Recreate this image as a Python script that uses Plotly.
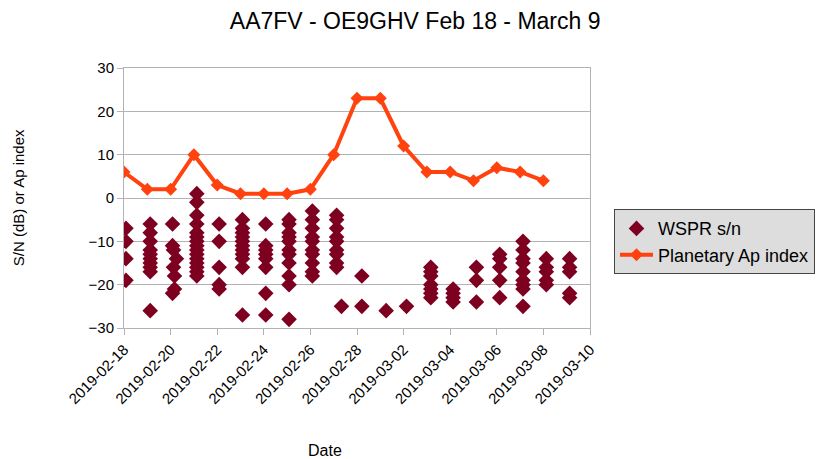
import plotly.graph_objects as go

# Planetary Ap index (daily)
ap_dates = ["2019-02-18", "2019-02-19", "2019-02-20", "2019-02-21", "2019-02-22",
            "2019-02-23", "2019-02-24", "2019-02-25", "2019-02-26", "2019-02-27",
            "2019-02-28", "2019-03-01", "2019-03-02", "2019-03-03", "2019-03-04",
            "2019-03-05", "2019-03-06", "2019-03-07", "2019-03-08"]
ap_values = [6, 2, 2, 10, 3, 1, 1, 1, 2, 10, 23, 23, 12, 6, 6, 4, 7, 6, 4]

# WSPR spots: time and s/n (dB)
wspr_time = (
    ["2019-02-18 02:00"] * 4 +
    ["2019-02-19 03:00"] * 10 +
    ["2019-02-20 02:00", "2019-02-20 02:00", "2019-02-20 03:00", "2019-02-20 06:00",
     "2019-02-20 03:00", "2019-02-20 04:00", "2019-02-20 04:00", "2019-02-20 02:00"] +
    ["2019-02-21 03:00"] * 15 +
    ["2019-02-22 02:00"] * 5 +
    ["2019-02-23 02:00"] * 11 +
    ["2019-02-24 02:00"] * 8 +
    ["2019-02-25 02:00"] * 11 +
    ["2019-02-26 02:00"] * 10 +
    ["2019-02-27 03:00"] * 9 + ["2019-02-27 08:00"] +
    ["2019-02-28 05:00"] * 2 +
    ["2019-03-01 06:00"] +
    ["2019-03-02 03:00"] +
    ["2019-03-03 04:00"] * 7 +
    ["2019-03-04 03:00"] * 4 +
    ["2019-03-05 03:00"] * 3 +
    ["2019-03-06 03:00"] * 5 +
    ["2019-03-07 03:00"] * 9 +
    ["2019-03-08 03:00"] * 5 +
    ["2019-03-09 03:00"] * 5
)
wspr_sn = (
    [-7, -10, -14, -19] +
    [-6, -8, -10, -12, -13, -14, -15, -16, -17, -26] +
    [-6, -11, -12, -14, -16, -18, -21, -22] +
    [1, -1, -4, -6, -8, -9, -10, -11, -12, -13, -14, -15, -16, -17, -18] +
    [-6, -10, -16, -20, -21] +
    [-5, -7, -8, -9, -10, -11, -12, -13, -14, -16, -27] +
    [-6, -11, -12, -13, -14, -16, -22, -27] +
    [-5, -6, -8, -9, -10, -12, -13, -15, -18, -20, -28] +
    [-3, -5, -7, -9, -10, -12, -13, -15, -17, -18] +
    [-4, -5, -7, -9, -10, -12, -13, -15, -16, -25] +
    [-18, -25] +
    [-26] +
    [-25] +
    [-16, -17, -18, -20, -21, -22, -23] +
    [-21, -22, -23, -24] +
    [-16, -19, -24] +
    [-13, -14, -16, -19, -23] +
    [-10, -12, -14, -15, -17, -19, -20, -21, -25] +
    [-14, -16, -17, -19, -20] +
    [-14, -16, -17, -22, -23]
)

x_range = ["2019-02-18", "2019-03-10"]
y_range = [-30, 30]

FONT = "Liberation Sans, Arial, sans-serif"
GRID = "#b3b3b3"

fig = go.Figure()
fig.add_trace(go.Scatter(
    x=wspr_time, y=wspr_sn, mode="markers", name="WSPR s/n",
    marker=dict(symbol="diamond", size=12, color="#7e0021", line=dict(width=0)),
))
fig.add_trace(go.Scatter(
    x=ap_dates, y=ap_values, mode="lines+markers", name="Planetary Ap index",
    line=dict(color="#ff420e", width=4),
    marker=dict(symbol="diamond", size=10, color="#ff420e"),
))

fig.update_layout(
    width=827, height=459,
    margin=dict(l=124, r=237, t=68, b=131),
    paper_bgcolor="white", plot_bgcolor="white",
    font=dict(family=FONT, size=15, color="#000000"),
    title=dict(text="AA7FV - OE9GHV Feb 18 - March 9", x=0.502, xref="container",
               xanchor="center", y=0.954, yref="container", yanchor="middle",
               font=dict(size=23, family=FONT, color="#000000")),
    showlegend=True,
    legend=dict(x=1.0515, xanchor="left", y=0.457, yanchor="top",
                bgcolor="#dddddd", bordercolor="#444444", borderwidth=1,
                font=dict(size=18, family=FONT, color="#000000"),
                tracegroupgap=0, itemwidth=33),
    xaxis=dict(type="date", range=x_range, tick0="2019-02-18",
               dtick=2 * 86400000, tickformat="%Y-%m-%d", tickangle=-45,
               showgrid=False, zeroline=False, showline=True, linecolor=GRID,
               linewidth=1, mirror=True, ticks="outside", ticklen=6,
               tickcolor=GRID, tickfont=dict(size=15, family=FONT)),
    yaxis=dict(range=y_range, dtick=10, showgrid=True, gridcolor=GRID,
               gridwidth=1, zeroline=False, showline=True, linecolor=GRID,
               linewidth=1, mirror=True, ticks="outside", ticklen=6,
               tickcolor=GRID, tickfont=dict(size=15, family=FONT)),
    annotations=[
        dict(text="Date", xref="paper", yref="paper", x=0.431, y=-0.47,
             xanchor="center", yanchor="middle", showarrow=False,
             font=dict(size=16, family=FONT)),
        dict(text="S/N (dB) or Ap index", xref="paper", yref="paper", x=-0.227,
             y=0.5, xanchor="center", yanchor="middle", textangle=-90,
             showarrow=False, font=dict(size=15, family=FONT)),
    ],
)

fig.write_html("out.html", config={"displayModeBar": False},
               post_script="document.body.style.margin='0';document.body.style.padding='0';")
